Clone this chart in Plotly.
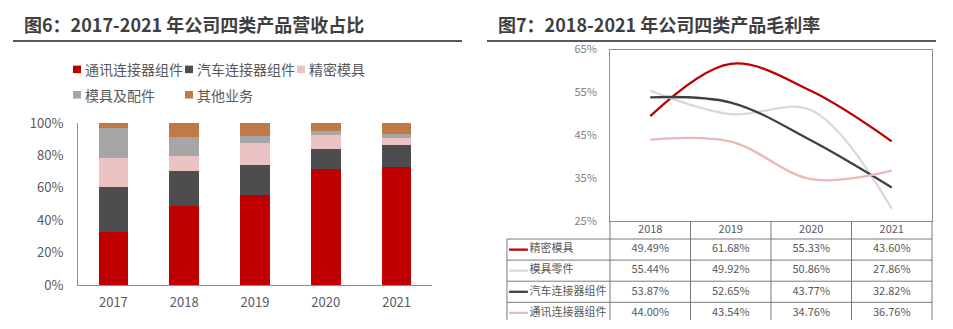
import plotly.graph_objects as go

# ---------------- data ----------------
bar_years = ["2017", "2018", "2019", "2020", "2021"]
bar_series = ["通讯连接器组件", "汽车连接器组件", "精密模具", "模具及配件", "其他业务"]
bar_comm = [33.0, 49.1, 55.5, 71.6, 72.7]
bar_auto = [27.5, 21.3, 18.6, 12.7, 13.6]
bar_mold = [18.0, 9.3, 13.3, 8.2, 4.4]
bar_parts = [18.2, 11.6, 4.9, 2.9, 2.5]
bar_other = [3.3, 8.7, 7.7, 4.6, 6.8]
bar_colors = ["#C00000", "#4D4D4F", "#EBC3C3", "#A6A6A6", "#C07A48"]

line_years = ["2018", "2019", "2020", "2021"]
line_series = ["精密模具", "模具零件", "汽车连接器组件", "通讯连接器组件"]
gm_mold = [49.49, 61.68, 55.33, 43.60]
gm_parts = [55.44, 49.92, 50.86, 27.86]
gm_auto = [53.87, 52.65, 43.77, 32.82]
gm_comm = [44.00, 43.54, 34.76, 36.76]
line_colors = ["#C00000", "#D9D9D9", "#404040", "#EBB8B8"]

left_title = "图6：2017-2021 年公司四类产品营收占比"
right_title = "图7：2018-2021 年公司四类产品毛利率"

FONT = "Noto Sans CJK SC"
W, H = 953, 329

def px(x):
    return x / W

def py(y):
    return (H - y) / H

fig = go.Figure()

# ---------------- stacked bars ----------------
bar_vals = [bar_comm, bar_auto, bar_mold, bar_parts, bar_other]
for name, vals, col in zip(bar_series, bar_vals, bar_colors):
    fig.add_trace(go.Bar(
        x=bar_years, y=vals, name=name, marker=dict(color=col, line=dict(width=0)),
        width=0.42, xaxis="x", yaxis="y", showlegend=False, hoverinfo="skip",
    ))

# ---------------- gross margin lines ----------------
line_vals = [gm_mold, gm_parts, gm_auto, gm_comm]
for name, vals, col in zip(line_series, line_vals, line_colors):
    fig.add_trace(go.Scatter(
        x=line_years, y=vals, name=name, mode="lines",
        line=dict(color=col, width=2.3, shape="spline", smoothing=1.0),
        xaxis="x2", yaxis="y2", showlegend=False, hoverinfo="skip",
    ))

# ---------------- data table (axis x3/y3) ----------------
row_bounds = [0.85, 1.85, 2.85, 3.85]
header_center = 0.425
row_centers = [1.35, 2.35, 3.35, 4.35]
col_idx = list(range(len(line_years)))
TXT = "#595959"
GRID = "#7A7A7A"

fig.add_trace(go.Scatter(
    x=col_idx, y=[header_center] * len(line_years), text=line_years, mode="text",
    textfont=dict(family=FONT, size=11, color=TXT), textposition="middle center",
    xaxis="x3", yaxis="y3", showlegend=False, hoverinfo="skip",
))
for name, vals, col, rc in zip(line_series, line_vals, line_colors, row_centers):
    fig.add_trace(go.Scatter(
        x=col_idx, y=[rc] * len(vals), text=[f"{v:.2f}%" for v in vals], mode="text",
        textfont=dict(family=FONT, size=11, color=TXT), textposition="middle center",
        xaxis="x3", yaxis="y3", showlegend=False, hoverinfo="skip",
    ))
    fig.add_trace(go.Scatter(
        x=[-1.755, -1.52], y=[rc, rc], mode="lines", line=dict(color=col, width=2.3),
        xaxis="x3", yaxis="y3", showlegend=False, hoverinfo="skip",
    ))
    fig.add_trace(go.Scatter(
        x=[-1.50], y=[rc], text=[name], mode="text", textposition="middle right",
        textfont=dict(family=FONT, size=11, color=TXT),
        xaxis="x3", yaxis="y3", showlegend=False, hoverinfo="skip",
    ))

shapes = []
for xv in [-0.5, 0.5, 1.5, 2.5, 3.5]:
    shapes.append(dict(type="line", xref="x3", yref="y3", x0=xv, x1=xv, y0=0, y1=5,
                       line=dict(color=GRID, width=1)))
shapes.append(dict(type="line", xref="x3", yref="y3", x0=-1.78, x1=-1.78, y0=row_bounds[0], y1=5,
                   line=dict(color=GRID, width=1)))
for yb in row_bounds:
    shapes.append(dict(type="line", xref="x3", yref="y3", x0=-1.78, x1=3.5, y0=yb, y1=yb,
                       line=dict(color=GRID, width=1)))
shapes.append(dict(type="line", xref="paper", yref="paper", x0=px(13), x1=px(462), y0=py(33), y1=py(33),
                   line=dict(color="#595959", width=2)))
shapes.append(dict(type="line", xref="paper", yref="paper", x0=px(487), x1=px(936), y0=py(33), y1=py(33),
                   line=dict(color="#595959", width=2)))

annotations = [
    dict(text=left_title, xref="paper", yref="paper", x=px(22), y=py(15), xanchor="left",
         yanchor="middle", showarrow=False, font=dict(family=FONT, size=18, color="#3F3F3F", weight="bold")),
    dict(text=right_title, xref="paper", yref="paper", x=px(496), y=py(15), xanchor="left",
         yanchor="middle", showarrow=False, font=dict(family=FONT, size=18, color="#3F3F3F", weight="bold")),
]

# ---------------- legend of the bar chart (grid of 3 + 2 entries) ----------------
legend_slots = [(73, 63), (185, 63), (297, 63), (73, 90), (185, 90)]
for (lx, ly), name, col in zip(legend_slots, bar_series, bar_colors):
    shapes.append(dict(type="rect", xref="paper", yref="paper", x0=px(lx), x1=px(lx + 8),
                       y0=py(ly + 4), y1=py(ly - 4), fillcolor=col, line=dict(width=0)))
    annotations.append(dict(text=name, xref="paper", yref="paper", x=px(lx + 10), y=py(ly),
                            xanchor="left", yanchor="middle", showarrow=False,
                            font=dict(family=FONT, size=14, color=TXT)))

u = 322 / 4
x3_lo, x3_hi = -1.80, 3.52
x3_d0 = 610 - (-0.5 - x3_lo) * u
x3_d1 = 610 + (x3_hi + 0.5) * u
row_px = 22.4
y3_span = (H - 224) / row_px

fig.update_layout(
    width=W, height=H, margin=dict(l=0, r=0, t=0, b=0),
    paper_bgcolor="white", plot_bgcolor="white",
    barmode="stack", showlegend=False,
    font=dict(family=FONT, color=TXT),
    shapes=shapes, annotations=annotations,
    xaxis=dict(domain=[px(78), px(432)], type="category", showline=True, linecolor="#8C8C8C",
               linewidth=1, ticks="", tickfont=dict(family=FONT, size=13, color=TXT),
               showgrid=False, ticklabelstandoff=5, fixedrange=True),
    yaxis=dict(domain=[37 / H, 209 / H], range=[0, 100], dtick=20, ticksuffix="%",
               showline=True, linecolor="#8C8C8C", linewidth=1, ticks="", showgrid=False,
               zeroline=False, tickfont=dict(family=FONT, size=13, color=TXT),
               ticklabelstandoff=11, fixedrange=True),
    xaxis2=dict(domain=[px(610), px(932)], type="category", range=[-0.5, 3.5],
                showline=True, mirror=True, linecolor="#8C8C8C", linewidth=1,
                showticklabels=False, ticks="", showgrid=False, anchor="y2", fixedrange=True),
    yaxis2=dict(domain=[py(224), py(42)], range=[25, 65], tick0=25, dtick=10, ticksuffix="%",
                showline=True, mirror=True, linecolor="#8C8C8C", linewidth=1, ticks="",
                showgrid=False, zeroline=False, anchor="x2",
                tickfont=dict(family=FONT, size=11, color="#7F7F7F"), ticklabelstandoff=10,
                fixedrange=True),
    xaxis3=dict(domain=[px(x3_d0), px(x3_d1)], range=[x3_lo, x3_hi], visible=False,
                anchor="y3", fixedrange=True),
    yaxis3=dict(domain=[0, py(224)], range=[y3_span, 0], visible=False, anchor="x3",
                fixedrange=True),
)

fig.write_html("out.html")
